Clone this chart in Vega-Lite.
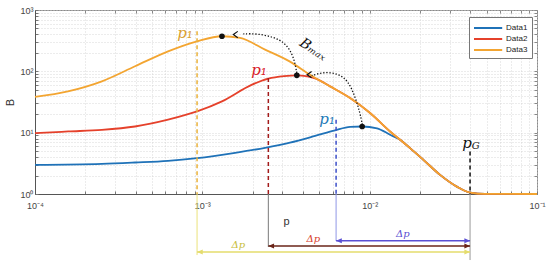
{
  "$schema": "https://vega.github.io/schema/vega-lite/v6.json",
  "width": 502,
  "height": 184,
  "autosize": {"type": "none"},
  "padding": {"left": 35, "top": 10, "right": 13, "bottom": 68},
  "background": "white",
  "config": {
    "view": {"stroke": "#8a8a8a", "strokeWidth": 1},
    "axis": {"labelFont": "Liberation Sans", "titleFont": "Liberation Sans", "labelColor": "#444", "titleColor": "#333"}
  },
  "resolve": {"axis": {"x": "independent", "y": "independent"}},
  "datasets": {
    "curves": [
      {"s": "Data1", "p": 0.0001, "B": 2.99}, {"s": "Data1", "p": 0.000251, "B": 3.10}, {"s": "Data1", "p": 0.000396, "B": 3.26},
      {"s": "Data1", "p": 0.000624, "B": 3.47}, {"s": "Data1", "p": 0.00093, "B": 3.85}, {"s": "Data1", "p": 0.00157, "B": 4.70},
      {"s": "Data1", "p": 0.00237, "B": 5.66}, {"s": "Data1", "p": 0.00334, "B": 6.87}, {"s": "Data1", "p": 0.00472, "B": 8.83},
      {"s": "Data1", "p": 0.00621, "B": 10.9}, {"s": "Data1", "p": 0.00764, "B": 12.4}, {"s": "Data1", "p": 0.00902, "B": 12.6},
      {"s": "Data1", "p": 0.01107, "B": 11.8}, {"s": "Data1", "p": 0.01324, "B": 9.24}, {"s": "Data1", "p": 0.0152, "B": 7.66},
      {"s": "Data1", "p": 0.01744, "B": 5.6}, {"s": "Data1", "p": 0.02094, "B": 3.61}, {"s": "Data1", "p": 0.02635, "B": 2.05},
      {"s": "Data1", "p": 0.03317, "B": 1.32}, {"s": "Data1", "p": 0.0398, "B": 1.054}, {"s": "Data1", "p": 0.049, "B": 1.005},
      {"s": "Data1", "p": 0.1, "B": 1.0},
      {"s": "Data2", "p": 0.0001, "B": 9.84}, {"s": "Data2", "p": 0.000158, "B": 10.46}, {"s": "Data2", "p": 0.000251, "B": 11.1},
      {"s": "Data2", "p": 0.000396, "B": 12.6}, {"s": "Data2", "p": 0.000624, "B": 16.3}, {"s": "Data2", "p": 0.00093, "B": 22.2},
      {"s": "Data2", "p": 0.00131, "B": 32.4}, {"s": "Data2", "p": 0.001982, "B": 60.7}, {"s": "Data2", "p": 0.00248, "B": 76.0},
      {"s": "Data2", "p": 0.00308, "B": 83.5}, {"s": "Data2", "p": 0.00367, "B": 86.1}, {"s": "Data2", "p": 0.00417, "B": 83.5},
      {"s": "Data2", "p": 0.00472, "B": 76.8}, {"s": "Data2", "p": 0.0058, "B": 56.9}, {"s": "Data2", "p": 0.00764, "B": 36.8},
      {"s": "Data2", "p": 0.01006, "B": 20.9}, {"s": "Data2", "p": 0.01324, "B": 10.46}, {"s": "Data2", "p": 0.0152, "B": 7.66},
      {"s": "Data2", "p": 0.01744, "B": 5.6}, {"s": "Data2", "p": 0.02094, "B": 3.61}, {"s": "Data2", "p": 0.02635, "B": 2.05},
      {"s": "Data2", "p": 0.03317, "B": 1.32}, {"s": "Data2", "p": 0.0398, "B": 1.054}, {"s": "Data2", "p": 0.049, "B": 1.005},
      {"s": "Data2", "p": 0.1, "B": 1.0},
      {"s": "Data3", "p": 0.0001, "B": 38.2}, {"s": "Data3", "p": 0.0001574, "B": 47.1}, {"s": "Data3", "p": 0.000251, "B": 68.7},
      {"s": "Data3", "p": 0.000396, "B": 120.8}, {"s": "Data3", "p": 0.000624, "B": 212}, {"s": "Data3", "p": 0.00093, "B": 309},
      {"s": "Data3", "p": 0.00131, "B": 373}, {"s": "Data3", "p": 0.00168, "B": 351}, {"s": "Data3", "p": 0.00237, "B": 226},
      {"s": "Data3", "p": 0.00334, "B": 144}, {"s": "Data3", "p": 0.0044, "B": 88.3}, {"s": "Data3", "p": 0.0058, "B": 56.9},
      {"s": "Data3", "p": 0.00764, "B": 36.8}, {"s": "Data3", "p": 0.01006, "B": 20.9}, {"s": "Data3", "p": 0.01324, "B": 10.46},
      {"s": "Data3", "p": 0.0152, "B": 7.66}, {"s": "Data3", "p": 0.01744, "B": 5.6}, {"s": "Data3", "p": 0.02094, "B": 3.61},
      {"s": "Data3", "p": 0.02635, "B": 2.05}, {"s": "Data3", "p": 0.03317, "B": 1.32}, {"s": "Data3", "p": 0.0398, "B": 1.054},
      {"s": "Data3", "p": 0.049, "B": 1.005}, {"s": "Data3", "p": 0.1, "B": 1.0}
    ],
    "markers": [
      {"s": "m3", "p": 0.00093, "top": 450, "bot": 1},
      {"s": "m2", "p": 0.00248, "top": 78, "bot": 1},
      {"s": "m1", "p": 0.0063, "top": 16.3, "bot": 1},
      {"s": "mG", "p": 0.0398, "top": 4.93, "bot": 1}
    ],
    "below": [
      {"s": "g3", "p": 0.00093, "top": 1, "bot": 0.101},
      {"s": "g2", "p": 0.00248, "top": 1, "bot": 0.137},
      {"s": "g1", "p": 0.0063, "top": 1, "bot": 0.171},
      {"s": "gG", "p": 0.0398, "top": 1, "bot": 0.0838}
    ],
    "arrows": [
      {"s": "a1", "from": 0.0063, "to": 0.0398, "B": 0.173},
      {"s": "a2", "from": 0.00248, "to": 0.0398, "B": 0.142},
      {"s": "a3", "from": 0.00093, "to": 0.0398, "B": 0.113}
    ],
    "heads": [
      {"s": "a1", "dir": "L", "p": 0.0063, "B": 0.173}, {"s": "a1", "dir": "R", "p": 0.0398, "B": 0.173},
      {"s": "a2", "dir": "L", "p": 0.00248, "B": 0.142}, {"s": "a2", "dir": "R", "p": 0.0398, "B": 0.142},
      {"s": "a3", "dir": "L", "p": 0.00093, "B": 0.113}, {"s": "a3", "dir": "R", "p": 0.0398, "B": 0.113}
    ],
    "dots": [
      {"p": 0.00131, "B": 373}, {"p": 0.00367, "B": 86.1}, {"p": 0.00902, "B": 12.6}
    ],
    "arcs": [
      {"arc": "A", "i": 0, "p": 0.00904, "B": 13.5}, {"arc": "A", "i": 1, "p": 0.00876, "B": 20.9},
      {"arc": "A", "i": 2, "p": 0.00818, "B": 39.0}, {"arc": "A", "i": 3, "p": 0.00746, "B": 68.6},
      {"arc": "A", "i": 4, "p": 0.00665, "B": 88.3}, {"arc": "A", "i": 5, "p": 0.0058, "B": 96.3},
      {"arc": "A", "i": 6, "p": 0.00505, "B": 94.2}, {"arc": "A", "i": 7, "p": 0.004508, "B": 85.1},
      {"arc": "B", "i": 0, "p": 0.003666, "B": 94.2}, {"arc": "B", "i": 1, "p": 0.00358, "B": 137.2},
      {"arc": "B", "i": 2, "p": 0.00342, "B": 199.8}, {"arc": "B", "i": 3, "p": 0.00312, "B": 291.1},
      {"arc": "B", "i": 4, "p": 0.002657, "B": 364.8}, {"arc": "B", "i": 5, "p": 0.002114, "B": 413},
      {"arc": "B", "i": 6, "p": 0.001758, "B": 408.3}
    ],
    "chevrons": [
      {"p": 0.00423, "B": 88.3}, {"p": 0.001532, "B": 398}
    ],
    "p1labels": [
      {"s": "l3", "p": 0.000788, "B": 420, "t": "p₁"},
      {"s": "l2", "p": 0.00218, "B": 105, "t": "p₁"},
      {"s": "l1", "p": 0.005566, "B": 16.6, "t": "p₁"}
    ],
    "dplabels": [
      {"s": "t1", "p": 0.0158, "B": 0.226, "t": "Δp"},
      {"s": "t2", "p": 0.00461, "B": 0.186, "t": "Δp"},
      {"s": "t3", "p": 0.00164, "B": 0.15, "t": "Δp"}
    ],
    "pGp": [{"p": 0.0382, "B": 6.8, "t": "p"}],
    "pGG": [{"p": 0.0431, "B": 6.1, "t": "G"}],
    "bmax": [{"p": 0.00459, "B": 226, "t": "Bₘₐₓ"}]
  },
  "layer": [
    {
      "data": {"name": "curves"},
      "mark": {"type": "line", "strokeWidth": 1.8, "interpolate": "monotone"},
      "encoding": {
        "x": {"field": "p", "type": "quantitative", "title": "p",
          "scale": {"type": "log", "domain": [0.0001, 0.1], "nice": false},
          "axis": {"orient": "bottom", "values": [0.0001,0.0002,0.0003,0.0004,0.0005,0.0006,0.0007,0.0008,0.0009,0.001,0.002,0.003,0.004,0.005,0.006,0.007,0.008,0.009,0.01,0.02,0.03,0.04,0.05,0.06,0.07,0.08,0.09,0.1],
            "labelExpr": "datum.value == 0.0001 ? '10⁻⁴' : datum.value == 0.001 ? '10⁻³' : datum.value == 0.01 ? '10⁻²' : datum.value == 0.1 ? '10⁻¹' : ''",
            "labelFontSize": 9, "labelPadding": 10, "labelFlush": false, "labelOverlap": false,
            "grid": true, "gridColor": "#cfcfcf", "gridDash": [1, 2], "gridWidth": 0.8,
            "domainColor": "#555", "tickColor": "#777", "tickSize": -3,
            "titleFontSize": 11, "titleFontWeight": "normal", "titlePadding": 5}},
        "y": {"field": "B", "type": "quantitative", "title": "B",
          "scale": {"type": "log", "domain": [1, 1000], "nice": false},
          "axis": {"orient": "left", "values": [1,2,3,4,5,6,7,8,9,10,20,30,40,50,60,70,80,90,100,200,300,400,500,600,700,800,900,1000],
            "labelExpr": "datum.value == 1 ? '10⁰' : datum.value == 10 ? '10¹' : datum.value == 100 ? '10²' : datum.value == 1000 ? '10³' : ''",
            "labelFontSize": 9, "labelPadding": 5, "labelOverlap": false,
            "grid": true, "gridColor": "#cfcfcf", "gridDash": [1, 2], "gridWidth": 0.8,
            "domainColor": "#555", "tickColor": "#777", "tickSize": -3,
            "titleFontSize": 11, "titleFontWeight": "normal", "titlePadding": 4}},
        "color": {"field": "s", "type": "nominal",
          "scale": {"domain": ["Data1","Data2","Data3","m1","m2","m3","mG","g1","g2","g3","gG","a1","a2","a3","t1","t2","t3","l1","l2","l3"],
            "range": ["#1f72b8","#e5412b","#f3a531","#3c4fc9","#a31b1b","#eab23a","#111111","#8f96e6","#7a7a7a","#ece27a","#9a9a9a","#5a4fd3","#6a2418","#e4dc6c","#5a4fd3","#d8402c","#c8bd3c","#1f7ab8","#d9202a","#d9a032"]},
          "legend": {"values": ["Data1","Data2","Data3"], "title": null, "orient": "none", "legendX": 434, "legendY": 7,
            "symbolType": "M-1,0L3.7,0", "symbolSize": 144, "symbolStrokeWidth": 2, "labelFontSize": 8, "labelFont": "Liberation Sans",
            "labelColor": "#222", "strokeColor": "#777", "fillColor": "white", "padding": 4, "rowPadding": 0, "labelOffset": 19}}
      }
    },
    {
      "data": {"name": "markers"},
      "mark": {"type": "rule", "strokeDash": [4, 3], "strokeWidth": 1.5, "clip": false},
      "encoding": {
        "x": {"field": "p", "type": "quantitative", "scale": {"type": "log", "domain": [0.0001, 0.1], "nice": false},
          "axis": {"orient": "top", "values": [0.0001,0.0002,0.0003,0.0004,0.0005,0.0006,0.0007,0.0008,0.0009,0.001,0.002,0.003,0.004,0.005,0.006,0.007,0.008,0.009,0.01,0.02,0.03,0.04,0.05,0.06,0.07,0.08,0.09,0.1],
            "labels": false, "grid": false, "domain": false, "tickColor": "#888", "tickSize": -3, "title": null}},
        "y": {"field": "top", "type": "quantitative", "scale": {"type": "log", "domain": [1, 1000], "nice": false},
          "axis": {"orient": "right", "values": [1,2,3,4,5,6,7,8,9,10,20,30,40,50,60,70,80,90,100,200,300,400,500,600,700,800,900,1000],
            "labels": false, "grid": false, "domain": false, "tickColor": "#888", "tickSize": -3, "title": null}},
        "y2": {"field": "bot"},
        "color": {"field": "s", "type": "nominal",
          "scale": {"domain": ["Data1","Data2","Data3","m1","m2","m3","mG","g1","g2","g3","gG","a1","a2","a3","t1","t2","t3","l1","l2","l3"],
            "range": ["#1f72b8","#e5412b","#f3a531","#3c4fc9","#a31b1b","#eab23a","#111111","#8f96e6","#7a7a7a","#ece27a","#9a9a9a","#5a4fd3","#6a2418","#e4dc6c","#5a4fd3","#d8402c","#c8bd3c","#1f7ab8","#d9202a","#d9a032"]},
          "legend": null}
      }
    },
    {
      "data": {"name": "below"},
      "mark": {"type": "rule", "strokeWidth": 1, "clip": false},
      "encoding": {
        "x": {"field": "p", "type": "quantitative", "axis": null},
        "y": {"field": "top", "type": "quantitative", "axis": null},
        "y2": {"field": "bot"},
        "color": {"field": "s", "type": "nominal",
          "scale": {"domain": ["Data1","Data2","Data3","m1","m2","m3","mG","g1","g2","g3","gG","a1","a2","a3","t1","t2","t3","l1","l2","l3"],
            "range": ["#1f72b8","#e5412b","#f3a531","#3c4fc9","#a31b1b","#eab23a","#111111","#8f96e6","#7a7a7a","#ece27a","#9a9a9a","#5a4fd3","#6a2418","#e4dc6c","#5a4fd3","#d8402c","#c8bd3c","#1f7ab8","#d9202a","#d9a032"]},
          "legend": null}
      }
    },
    {
      "data": {"name": "arrows"},
      "mark": {"type": "rule", "strokeWidth": 1.5, "clip": false},
      "encoding": {
        "x": {"field": "from", "type": "quantitative", "axis": null},
        "x2": {"field": "to"},
        "y": {"field": "B", "type": "quantitative", "axis": null},
        "color": {"field": "s", "type": "nominal",
          "scale": {"domain": ["Data1","Data2","Data3","m1","m2","m3","mG","g1","g2","g3","gG","a1","a2","a3","t1","t2","t3","l1","l2","l3"],
            "range": ["#1f72b8","#e5412b","#f3a531","#3c4fc9","#a31b1b","#eab23a","#111111","#8f96e6","#7a7a7a","#ece27a","#9a9a9a","#5a4fd3","#6a2418","#e4dc6c","#5a4fd3","#d8402c","#c8bd3c","#1f7ab8","#d9202a","#d9a032"]},
          "legend": null}
      }
    },
    {
      "data": {"name": "heads"},
      "mark": {"type": "point", "filled": true, "size": 45, "opacity": 1, "clip": false},
      "encoding": {
        "x": {"field": "p", "type": "quantitative", "axis": null},
        "y": {"field": "B", "type": "quantitative", "axis": null},
        "shape": {"field": "dir", "type": "nominal", "scale": {"domain": ["L", "R"], "range": ["M0,0L1.7,-0.75L1.7,0.75Z", "M0,0L-1.7,-0.75L-1.7,0.75Z"]}, "legend": null},
        "color": {"field": "s", "type": "nominal",
          "scale": {"domain": ["Data1","Data2","Data3","m1","m2","m3","mG","g1","g2","g3","gG","a1","a2","a3","t1","t2","t3","l1","l2","l3"],
            "range": ["#1f72b8","#e5412b","#f3a531","#3c4fc9","#a31b1b","#eab23a","#111111","#8f96e6","#7a7a7a","#ece27a","#9a9a9a","#5a4fd3","#6a2418","#e4dc6c","#5a4fd3","#d8402c","#c8bd3c","#1f7ab8","#d9202a","#d9a032"]},
          "legend": null}
      }
    },
    {
      "data": {"name": "arcs"},
      "mark": {"type": "line", "color": "#111", "strokeWidth": 1.3, "strokeDash": [1.3, 1.8], "interpolate": "basis"},
      "encoding": {
        "x": {"field": "p", "type": "quantitative", "axis": null},
        "y": {"field": "B", "type": "quantitative", "axis": null},
        "detail": {"field": "arc"},
        "order": {"field": "i", "type": "quantitative"}
      }
    },
    {
      "data": {"name": "chevrons"},
      "mark": {"type": "point", "shape": "M1.4,-1L0,0L1.4,1", "filled": false, "size": 40, "stroke": "#111", "strokeWidth": 1.2, "opacity": 1},
      "encoding": {
        "x": {"field": "p", "type": "quantitative", "axis": null},
        "y": {"field": "B", "type": "quantitative", "axis": null}
      }
    },
    {
      "data": {"name": "dots"},
      "mark": {"type": "point", "filled": true, "size": 32, "color": "#111", "opacity": 1},
      "encoding": {
        "x": {"field": "p", "type": "quantitative", "axis": null},
        "y": {"field": "B", "type": "quantitative", "axis": null}
      }
    },
    {
      "data": {"name": "p1labels"},
      "mark": {"type": "text", "font": "DejaVu Serif", "fontStyle": "italic", "fontSize": 15, "align": "center", "baseline": "middle"},
      "encoding": {
        "x": {"field": "p", "type": "quantitative", "axis": null},
        "y": {"field": "B", "type": "quantitative", "axis": null},
        "text": {"field": "t"},
        "color": {"field": "s", "type": "nominal",
          "scale": {"domain": ["Data1","Data2","Data3","m1","m2","m3","mG","g1","g2","g3","gG","a1","a2","a3","t1","t2","t3","l1","l2","l3"],
            "range": ["#1f72b8","#e5412b","#f3a531","#3c4fc9","#a31b1b","#eab23a","#111111","#8f96e6","#7a7a7a","#ece27a","#9a9a9a","#5a4fd3","#6a2418","#e4dc6c","#5a4fd3","#d8402c","#c8bd3c","#1f7ab8","#d9202a","#d9a032"]},
          "legend": null}
      }
    },
    {
      "data": {"name": "dplabels"},
      "mark": {"type": "text", "font": "DejaVu Serif", "fontStyle": "italic", "fontSize": 10, "align": "center", "baseline": "middle", "clip": false},
      "encoding": {
        "x": {"field": "p", "type": "quantitative", "axis": null},
        "y": {"field": "B", "type": "quantitative", "axis": null},
        "text": {"field": "t"},
        "color": {"field": "s", "type": "nominal",
          "scale": {"domain": ["Data1","Data2","Data3","m1","m2","m3","mG","g1","g2","g3","gG","a1","a2","a3","t1","t2","t3","l1","l2","l3"],
            "range": ["#1f72b8","#e5412b","#f3a531","#3c4fc9","#a31b1b","#eab23a","#111111","#8f96e6","#7a7a7a","#ece27a","#9a9a9a","#5a4fd3","#6a2418","#e4dc6c","#5a4fd3","#d8402c","#c8bd3c","#1f7ab8","#d9202a","#d9a032"]},
          "legend": null}
      }
    },
    {
      "data": {"name": "pGp"},
      "mark": {"type": "text", "font": "DejaVu Serif", "fontStyle": "italic", "fontSize": 15, "color": "#111", "align": "center", "baseline": "middle"},
      "encoding": {
        "x": {"field": "p", "type": "quantitative", "axis": null},
        "y": {"field": "B", "type": "quantitative", "axis": null},
        "text": {"field": "t"}
      }
    },
    {
      "data": {"name": "pGG"},
      "mark": {"type": "text", "font": "DejaVu Serif", "fontStyle": "italic", "fontSize": 10, "color": "#111", "align": "center", "baseline": "middle"},
      "encoding": {
        "x": {"field": "p", "type": "quantitative", "axis": null},
        "y": {"field": "B", "type": "quantitative", "axis": null},
        "text": {"field": "t"}
      }
    },
    {
      "data": {"name": "bmax"},
      "mark": {"type": "text", "font": "DejaVu Serif", "fontStyle": "italic", "fontSize": 14, "color": "#111", "align": "center", "baseline": "middle", "angle": 33},
      "encoding": {
        "x": {"field": "p", "type": "quantitative", "axis": null},
        "y": {"field": "B", "type": "quantitative", "axis": null},
        "text": {"field": "t"}
      }
    }
  ]
}
